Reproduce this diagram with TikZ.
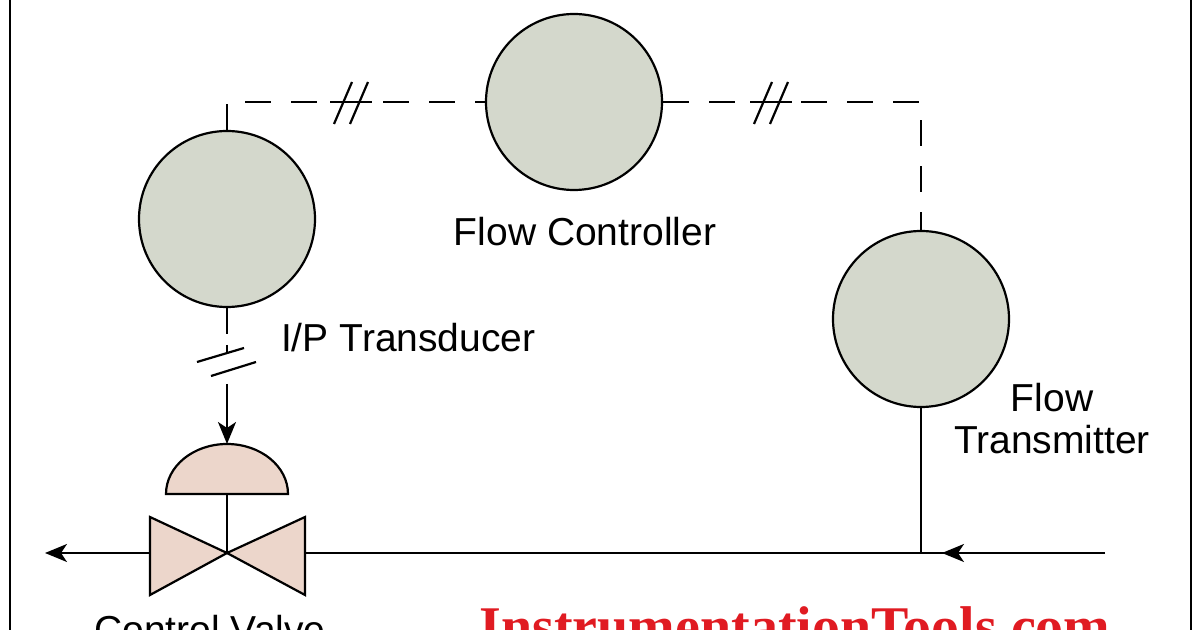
\documentclass[tikz,border=0pt]{standalone}
\usepackage{fontspec}
\setmainfont{Liberation Sans}
\newfontfamily\wm{Liberation Serif}
\usetikzlibrary{arrows.meta}
\definecolor{inst}{HTML}{D4D8CC}
\definecolor{vlv}{HTML}{ECD6CB}
\definecolor{wmred}{HTML}{E01B22}
\begin{document}
\begin{tikzpicture}[x=0.5pt,y=-0.5pt,line width=1.1pt,
  inst/.style={circle,draw,fill=inst,minimum size=88pt,inner sep=0pt},
  sig/.style={dash pattern=on 13pt off 10pt},
  lbl/.style={font=\fontsize{19.5}{22}\selectfont,inner sep=0pt},
  tip/.style={-{Stealth[length=11pt,width=9pt,inset=3pt]}}]
\useasboundingbox (0,0) rectangle (1200,630);
\draw (10,0) -- (10,630);
\draw (1191,0) -- (1191,630);
\node[inst] (ip) at (227,219) {};
\node[inst] (fc) at (574,102) {};
\node[inst] (ft) at (921,319) {};
\node[lbl] (fcl) at (585,232) {Flow Controller};
\node[lbl,anchor=west] (ipl) at (280,338) {I/P Transducer};
\node[lbl,align=center] (ftl) at (1052,419) {Flow\\[-1pt]Transmitter};
\node[lbl] (cvl) at (210,630) {Control Valve};
\node[inner sep=0pt,text=wmred,font=\wm\bfseries\fontsize{28}{32}\selectfont] (wm) at (795,626) {InstrumentationTools.com};
\coordinate (c1) at (227,102);
\coordinate (c2) at (921,102);
\draw[sig] (ip.north) -- (c1) -- (fc.west);
\draw[sig] (fc.east) -- (c2) -- (ft.north);
% break marks
\fill[white] (336,92) rectangle (372,112);
\draw (330,102) -- (372,102);
\draw (334,124) -- (352,82); \draw (350,124) -- (368,82);
\fill[white] (756,92) rectangle (792,112);
\draw (750,102) -- (792,102);
\draw (754,124) -- (772,82); \draw (770,124) -- (788,82);
% actuator
\coordinate (act) at (227,494);
\coordinate (acttop) at (227,444);
\filldraw[fill=vlv] (166,494) arc[start angle=180,end angle=0,x radius=61,y radius=-50] -- cycle;
\draw[sig] (ip.south) -- (227,345);
\draw (227,345) -- (227,352);
\draw (197,362) -- (244,348); \draw (211,376) -- (256,362);
\draw[tip] (227,384) -- (acttop);
% valve
\coordinate (vc) at (227,553);
\filldraw[fill=vlv] (vc) -- (150,517) -- (150,595) -- cycle;
\filldraw[fill=vlv] (vc) -- (305,517) -- (305,595) -- cycle;
\draw (act) -- (vc);
\coordinate (pin) at (1105,553);
\coordinate (pout) at (45,553);
\coordinate (tap) at (921,553);
\draw[tip] (pin) -- (942,553);
\draw (950,553) -- (305,553);
\draw[tip] (150,553) -- (pout);
\draw (ft.south) -- (tap);
\end{tikzpicture}
\end{document}
